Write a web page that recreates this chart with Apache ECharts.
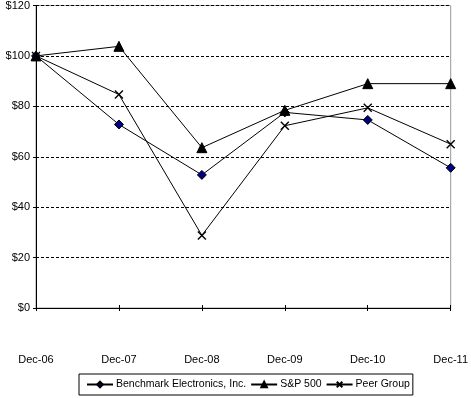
<!DOCTYPE html>
<html>
<head>
<meta charset="utf-8">
<script src="https://cdn.jsdelivr.net/npm/echarts@6/dist/echarts.min.js"></script>
<style>
  html, body { margin: 0; padding: 0; background: #fff; }
  #chart { width: 471px; height: 398px; }
</style>
</head>
<body>
<div id="chart"></div>
<script>
const categories = ['Dec-06', 'Dec-07', 'Dec-08', 'Dec-09', 'Dec-10', 'Dec-11'];
const benchmark = [100, 72.8, 52.8, 77.6, 74.6, 55.6];
const sp500 = [100, 103.8, 63.6, 78.4, 89.0, 89.0];
const peerGroup = [100, 84.7, 28.8, 72.3, 79.4, 65.0];

const crossSymbol = 'path://M0,0L10,10M10,0L0,10';
const font = 'Liberation Sans, Arial, sans-serif';

const chart = echarts.init(document.getElementById('chart'));

function line(name, data, symbol, size, color, bw) {
  return {
    name, type: 'line', data, symbol, symbolSize: size,
    lineStyle: { color: '#000', width: 1 },
    itemStyle: { color, borderColor: '#000', borderWidth: bw },
    emphasis: { disabled: true },
    animation: false
  };
}

chart.setOption({
  animation: false,
  textStyle: { fontFamily: font },
  grid: {
    left: 36, right: 17, top: 5, bottom: 90,
    show: true, borderColor: '#999', borderWidth: 1, backgroundColor: '#fff'
  },
  xAxis: [{
    type: 'category', data: categories, boundaryGap: false,
    axisLine: { lineStyle: { color: '#000', width: 1 } },
    axisTick: { show: true, length: 3, alignWithLabel: true, lineStyle: { color: '#000' } },
    axisLabel: { margin: 46, color: '#000', fontSize: 11, fontFamily: font },
    splitLine: { show: false }
  }, {
    type: 'category', data: categories, boundaryGap: false, position: 'bottom',
    axisLine: { show: false },
    axisTick: { show: true, inside: true, length: 3, lineStyle: { color: '#000' } },
    axisLabel: { show: false },
    splitLine: { show: false }
  }],
  yAxis: {
    type: 'value', min: 0, max: 120, interval: 20,
    axisLine: { show: true, lineStyle: { color: '#000', width: 1 } },
    axisTick: { show: true, length: 3, lineStyle: { color: '#000' } },
    axisLabel: { color: '#000', fontSize: 11, margin: 6, fontFamily: font, formatter: '${value}' },
    splitLine: { show: true, lineStyle: { color: '#000', type: [3, 2], width: 1 } }
  },
  legend: {
    left: 79, top: 374,
    itemGap: 4, itemWidth: 26, itemHeight: 7,
    padding: [5, 3, 5, 7],
    borderColor: '#000', borderWidth: 1, backgroundColor: '#fff',
    textStyle: { color: '#000', fontSize: 10.5, fontFamily: font, padding: [0, 0, 0, -2] },
    data: ['Benchmark Electronics, Inc.', 'S&P 500', 'Peer Group']
  },
  series: [
    line('Benchmark Electronics, Inc.', benchmark, 'diamond', 9, '#000080', 1),
    line('S&P 500', sp500, 'triangle', 10, '#000', 1),
    line('Peer Group', peerGroup, crossSymbol, 8, '#000', 1.4)
  ]
});
</script>
</body>
</html>
